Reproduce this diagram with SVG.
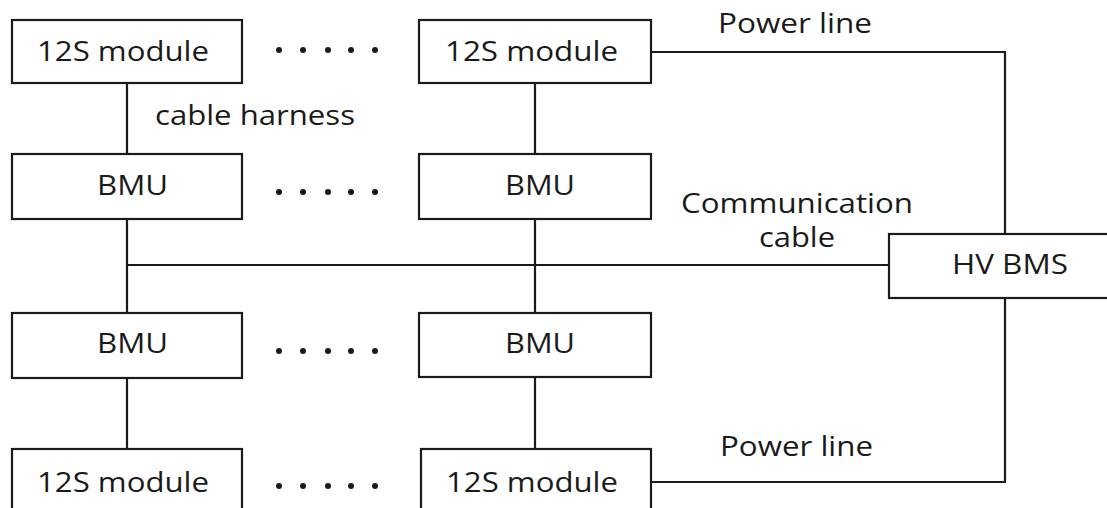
<svg xmlns="http://www.w3.org/2000/svg" width="1107" height="508" viewBox="0 0 1107 508">
<style>
.box{fill:#fff;stroke:#1a1a1a;stroke-width:2.2}
.ln{fill:none;stroke:#1a1a1a;stroke-width:2.2}
text{font-family:"Open Sans","Noto Sans","Liberation Sans",sans-serif;font-size:27px;fill:#1a1a1a}
.dot{fill:#1a1a1a}
</style>
<rect width="1107" height="508" fill="#fff"/>
<g id="connectors">
<path class="ln" d="M127 83V154M127 219V313M127 378V449"/>
<path class="ln" d="M535 83V154M535 219V313M535 378V449"/>
<path class="ln" d="M127 265H889"/>
<path class="ln" d="M651 52H1005V234"/>
<path class="ln" d="M651 482H1005V298"/>
</g>
<g id="m1"><rect class="box" x="12" y="20" width="230" height="63"/><text x="37" y="61" textLength="172" lengthAdjust="spacingAndGlyphs">12S module</text></g>
<g id="m2"><rect class="box" x="419" y="20" width="232" height="63"/><text x="445" y="61" textLength="173" lengthAdjust="spacingAndGlyphs">12S module</text></g>
<g id="b1"><rect class="box" x="12" y="154" width="230" height="65"/><text x="97" y="195" textLength="71" lengthAdjust="spacingAndGlyphs">BMU</text></g>
<g id="b2"><rect class="box" x="419" y="154" width="232" height="65"/><text x="505" y="195" textLength="70" lengthAdjust="spacingAndGlyphs">BMU</text></g>
<g id="b3"><rect class="box" x="12" y="313" width="230" height="65"/><text x="97" y="353" textLength="71" lengthAdjust="spacingAndGlyphs">BMU</text></g>
<g id="b4"><rect class="box" x="419" y="313" width="232" height="64"/><text x="505" y="353" textLength="70" lengthAdjust="spacingAndGlyphs">BMU</text></g>
<g id="m3"><rect class="box" x="12" y="449" width="230" height="70"/><text x="37" y="492" textLength="172" lengthAdjust="spacingAndGlyphs">12S module</text></g>
<g id="m4"><rect class="box" x="421" y="449" width="230" height="70"/><text x="446" y="492" textLength="172" lengthAdjust="spacingAndGlyphs">12S module</text></g>
<g id="hv"><rect class="box" x="889" y="234" width="240" height="64"/><text x="952" y="274" textLength="116" lengthAdjust="spacingAndGlyphs">HV BMS</text></g>
<g id="labels">
<text x="155" y="125" textLength="200" lengthAdjust="spacingAndGlyphs">cable harness</text>
<text x="718" y="33" textLength="154" lengthAdjust="spacingAndGlyphs">Power line</text>
<text x="720" y="456" textLength="153" lengthAdjust="spacingAndGlyphs">Power line</text>
<text x="681" y="213" textLength="232" lengthAdjust="spacingAndGlyphs">Communication</text>
<text x="759" y="247" textLength="76" lengthAdjust="spacingAndGlyphs">cable</text>
</g>
<g id="dots">
<circle class="dot" cx="279" cy="50" r="3"/><circle class="dot" cx="303" cy="50" r="3"/><circle class="dot" cx="328" cy="50" r="3"/><circle class="dot" cx="351" cy="50" r="3"/><circle class="dot" cx="375" cy="50" r="3"/>
<circle class="dot" cx="279" cy="192" r="3"/><circle class="dot" cx="303" cy="192" r="3"/><circle class="dot" cx="328" cy="192" r="3"/><circle class="dot" cx="351" cy="192" r="3"/><circle class="dot" cx="375" cy="192" r="3"/>
<circle class="dot" cx="279" cy="351" r="3"/><circle class="dot" cx="303" cy="351" r="3"/><circle class="dot" cx="328" cy="351" r="3"/><circle class="dot" cx="351" cy="351" r="3"/><circle class="dot" cx="375" cy="351" r="3"/>
<circle class="dot" cx="279" cy="486" r="3"/><circle class="dot" cx="303" cy="486" r="3"/><circle class="dot" cx="328" cy="486" r="3"/><circle class="dot" cx="351" cy="486" r="3"/><circle class="dot" cx="375" cy="486" r="3"/>
</g>
</svg>
